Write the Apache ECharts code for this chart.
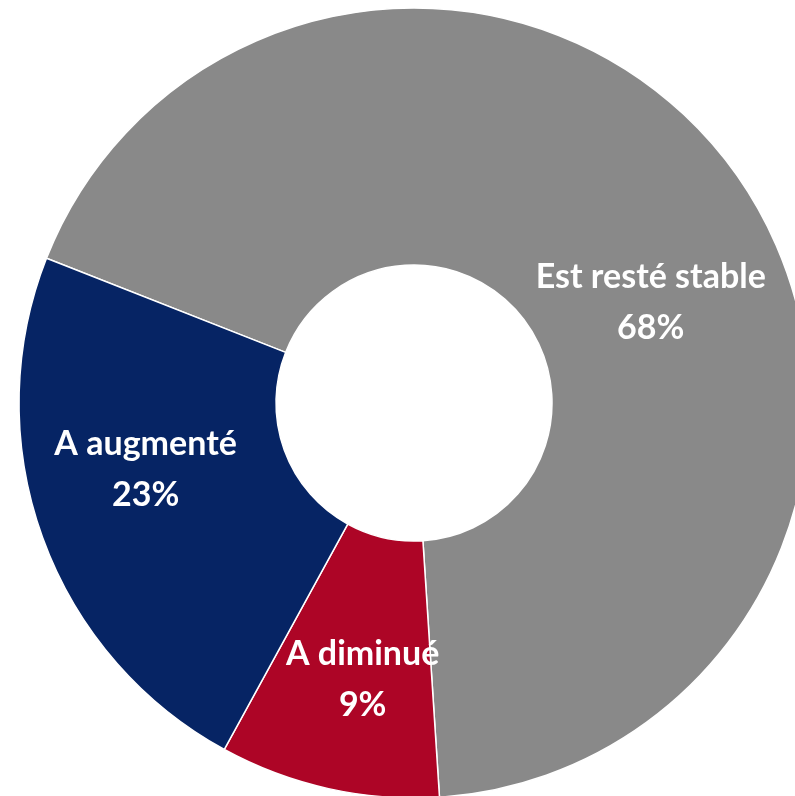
<!DOCTYPE html>
<html lang="fr">
<head>
    <meta charset="utf-8">
    <title>donut</title>
    <script src="https://cdn.jsdelivr.net/npm/echarts@6/dist/echarts.min.js"></script>
    <style>
        * { margin: 0; padding: 0; box-sizing: border-box; }
        html, body { width: 100%; height: 100%; background: #fff; }
        #main { width: 795px; height: 796px; }
    </style>
</head>
<body>
    <div id="main"></div>
<script>
    // catégories et parts (%)
    const categories = ['Est resté stable', 'A diminué', 'A augmenté'];
    const values = [68, 9, 23];
    const colors = ['#898989', '#AD0526', '#062464'];
    // décalage des étiquettes par rapport à la position "inside"
    const labelOffsets = [[19, 58], [7, 13], [-15, -25]];

    const chart = echarts.init(document.getElementById('main'));

    chart.setOption({
        animation: false,
        series: [{
            type: 'pie',
            center: [414, 403],
            radius: [138, 395],
            startAngle: 158.5,
            clockwise: true,
            itemStyle: { borderColor: '#ffffff', borderWidth: 1.5 },
            label: {
                show: true,
                position: 'inside',
                color: '#ffffff',
                fontFamily: 'Lato',
                fontWeight: 'bold',
                fontSize: 34,
                lineHeight: 51,
                formatter: p => p.name + '\n' + p.value + '%'
            },
            labelLine: { show: false },
            emphasis: { disabled: true },
            data: categories.map((name, i) => ({
                name: name,
                value: values[i],
                itemStyle: { color: colors[i] },
                label: { offset: labelOffsets[i] }
            }))
        }]
    });
</script>
</body>
</html>
